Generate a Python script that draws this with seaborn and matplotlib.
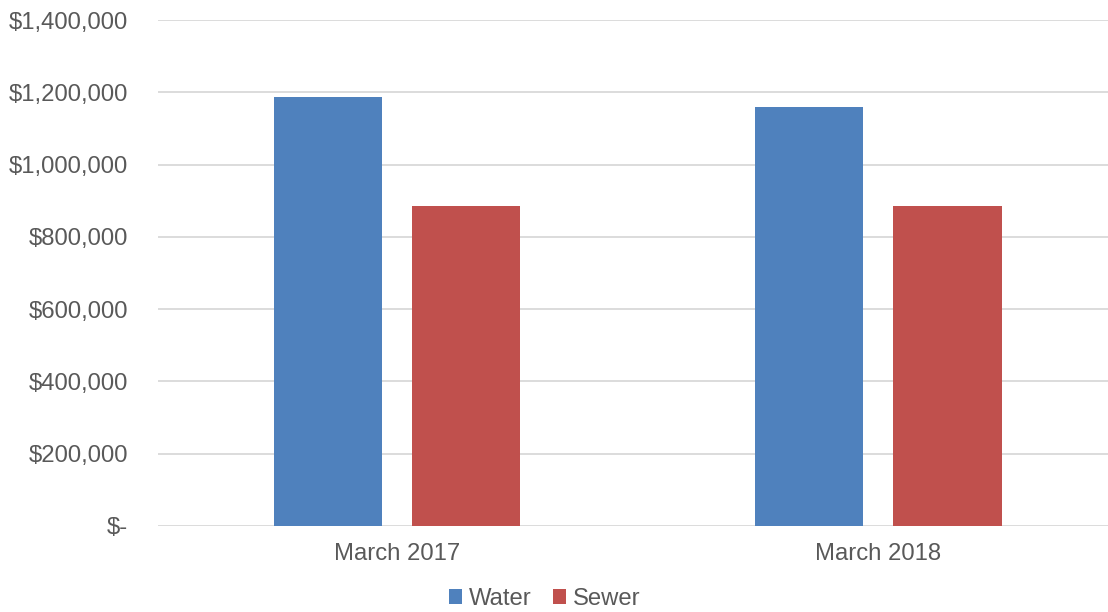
import matplotlib
matplotlib.use("Agg")
import matplotlib.pyplot as plt
from matplotlib.ticker import FuncFormatter, MultipleLocator
import pandas as pd
import seaborn as sns

# Monthly billed amounts by service
periods = ["March 2017", "March 2018"]
water = [1187000, 1159000]
sewer = [884000, 884000]
series_names = ["Water", "Sewer"]
series_colors = ["#4F81BD", "#C0504D"]

df = pd.DataFrame({
    "period": periods * 2,
    "amount": water + sewer,
    "series": [series_names[0]] * len(periods) + [series_names[1]] * len(periods),
})

sns.set_theme(style="white")
plt.rcParams["font.family"] = ["Liberation Sans", "DejaVu Sans"]

text_color = "#595959"
grid_color = "#D9D9D9"
fs = 17.2

fig = plt.figure(figsize=(11.08, 6.12), dpi=100)
W, H = 1108, 612
ax = fig.add_axes([157.5 / W, 86 / H, (1108 - 157.5) / W, 506 / H])

sns.barplot(
    data=df, x="period", y="amount", hue="series",
    palette=series_colors, hue_order=series_names, order=periods,
    width=0.574, gap=0.217, saturation=1, errorbar=None, ax=ax,
    linewidth=0, zorder=3,
)

ax.set_ylim(0, 1400000)
ax.set_xlim(-0.497, 1.4766)
ax.yaxis.set_major_locator(MultipleLocator(200000))


def money(v, pos):
    if abs(v) < 1:
        return "$-"
    return f"${v:,.0f}"


ax.yaxis.set_major_formatter(FuncFormatter(money))
ax.grid(axis="y", color=grid_color, linewidth=1.3, zorder=0)
ax.grid(axis="x", visible=False)
ax.set_axisbelow(True)
for s in ax.spines.values():
    s.set_visible(False)

ax.tick_params(axis="y", length=0, pad=21, labelsize=fs, labelcolor=text_color)
ax.tick_params(axis="x", length=0, pad=12.5, labelsize=fs, labelcolor=text_color)
ax.set_xlabel("")
ax.set_ylabel("")

handles, labels = ax.get_legend_handles_labels()
ax.get_legend().remove()
fig.legend(
    handles, labels, loc="center", bbox_to_anchor=(545 / W, 1 - 599 / H),
    ncol=2, frameon=False, fontsize=fs, labelcolor=text_color,
    handlelength=0.55, handleheight=0.55, handletextpad=0.28,
    columnspacing=0.9, borderpad=0,
)

fig.savefig("out.png", dpi=100)
